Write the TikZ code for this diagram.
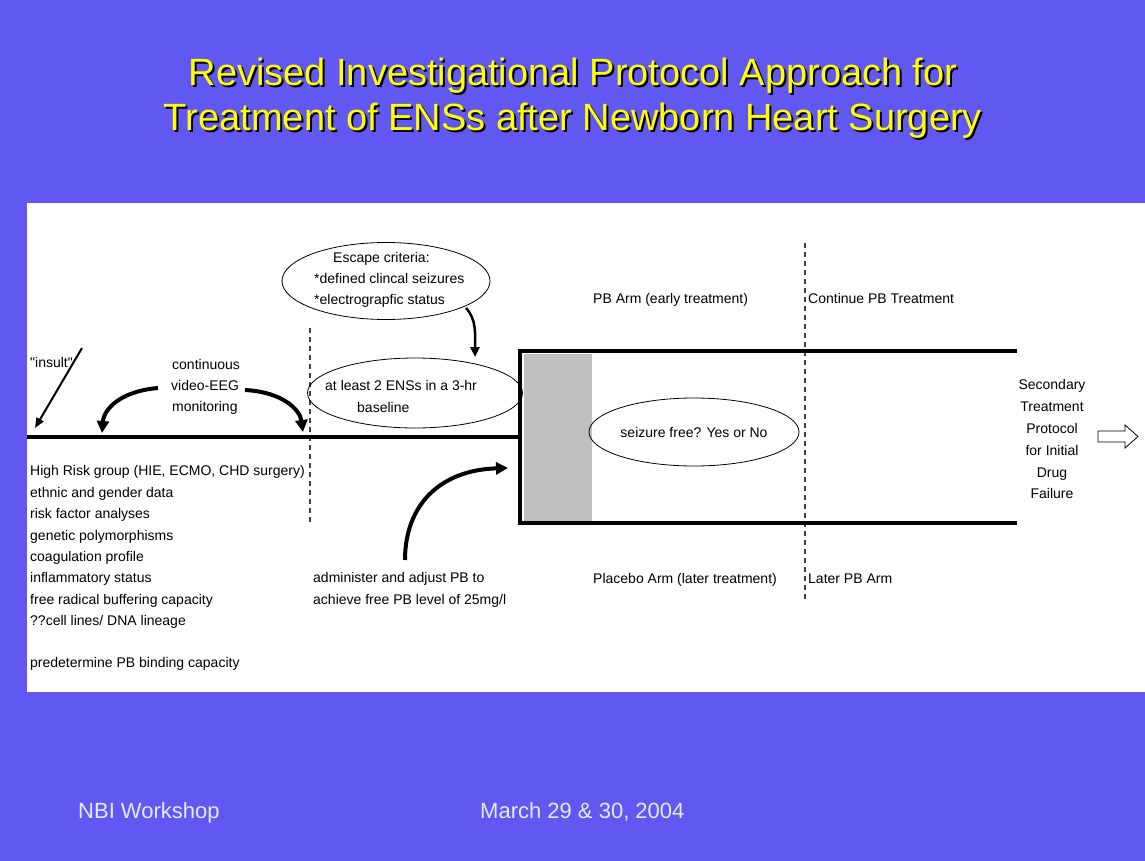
\documentclass[tikz,border=0pt]{standalone}
\usepackage{fontspec}
\setmainfont{Liberation Sans}[Ligatures=TeXOff]
\usetikzlibrary{arrows.meta,shapes.geometric,shapes.arrows}
\definecolor{slide}{RGB}{96,88,240}
\definecolor{ttl}{RGB}{255,255,0}
\definecolor{foot}{RGB}{228,234,255}
\definecolor{armgray}{RGB}{192,192,192}
\begin{document}
\begin{tikzpicture}[x=1pt,y=-1pt,
  txt/.style={anchor=base west, inner sep=0pt, font=\fontsize{14}{16}\selectfont},
  ctxt/.style={anchor=base, inner sep=0pt, font=\fontsize{14}{16}\selectfont},
  ttlshadow/.style={anchor=base, inner sep=0pt, font=\fontsize{38}{44}\selectfont, text=black},
  ttltext/.style={anchor=base, inner sep=0pt, font=\fontsize{38}{44}\selectfont, text=ttl},
  foottxt/.style={anchor=base west, inner sep=0pt, font=\fontsize{22}{26}\selectfont, text=foot},
  bar/.style={line width=4.5pt},
  thickarrow/.style={line width=4pt, -{Triangle[length=12pt,width=12pt]}},
  thinarrow/.style={line width=2pt, -{Triangle[length=10pt,width=8pt]}},
  midarrow/.style={line width=2.5pt, -{Triangle[length=10pt,width=9pt]}},
  guide/.style={dash pattern=on 5pt off 4pt, line width=1.2pt, black!75},
  oval/.style={ellipse, draw, line width=0.8pt, inner sep=0pt, font=\fontsize{14}{16}\selectfont}]
\useasboundingbox (0,0) rectangle (1145,861);
\fill[slide] (0,0) rectangle (1145,861);
\fill[white] (27,203) rectangle (1145,692);

% title
\node[ttlshadow] (t1s) at (575,88) {Revised Investigational Protocol Approach for};
\node[ttltext]   (t1)  at (573,86) {Revised Investigational Protocol Approach for};
\node[ttlshadow] (t2s) at (575,133) {Treatment of ENSs after Newborn Heart Surgery};
\node[ttltext]   (t2)  at (573,131) {Treatment of ENSs after Newborn Heart Surgery};

% dashed guides
\coordinate (g1t) at (310,328); \coordinate (g1b) at (310,525);
\coordinate (g2t) at (805,243); \coordinate (g2b) at (805,600);
\draw[guide] (g1t) -- (g1b);
\draw[guide] (g2t) -- (g2b);

% box
\fill[armgray] (524,354) rectangle (592,521);
\coordinate (bx1) at (1017,351); \coordinate (bx2) at (520,351);
\coordinate (bx3) at (520,523);  \coordinate (bx4) at (1017,523);
\draw[bar] (bx1) -- (bx2) -- (bx3) -- (bx4);

% timeline
\coordinate (tl0) at (27,437); \coordinate (tl1) at (520,437);
\draw[bar] (tl0) -- (tl1);

% ellipses
\node[oval, minimum width=208pt, minimum height=77pt] (esc) at (386,281) {};
\node[oval, minimum width=215pt, minimum height=70pt] (base) at (415,393) {};
\node[oval, minimum width=210pt, minimum height=68pt] (sf) at (694,432) {seizure free? Yes or No};

% texts
\node[txt] (ins) at (30,367) {"insult"};
\node[txt] (cv1) at (172,369) {continuous};
\node[txt] (cv2) at (171,390) {video-EEG};
\node[txt] (cv3) at (172,411) {monitoring};

\node[txt] (e1) at (333,262) {Escape criteria:};
\node[txt] (e2) at (314,283) {*defined clincal seizures};
\node[txt] (e3) at (314,304) {*electrograpfic status};

\node[txt] (b1) at (325,390) {at least 2 ENSs in a 3-hr};
\node[txt] (b2) at (357,412) {baseline};

\node[txt] (pba) at (593,303) {PB Arm (early treatment)};
\node[txt] (cpb) at (808,303) {Continue PB Treatment};
\node[txt] (pla) at (593,583) {Placebo Arm (later treatment)};
\node[txt] (lpb) at (808,583) {Later PB Arm};

\node[txt] (ad1) at (313,582) {administer and adjust PB to};
\node[txt] (ad2) at (313,604) {achieve free PB level of 25mg/l};

\node[txt] (l1) at (30,475) {High Risk group (HIE, ECMO, CHD surgery)};
\node[txt] (l2) at (30,497) {ethnic and gender data};
\node[txt] (l3) at (30,518) {risk factor analyses};
\node[txt] (l4) at (30,540) {genetic polymorphisms};
\node[txt] (l5) at (30,561) {coagulation profile};
\node[txt] (l6) at (30,582) {inflammatory status};
\node[txt] (l7) at (30,604) {free radical buffering capacity};
\node[txt] (l8) at (30,625) {??cell lines/ DNA lineage};
\node[txt] (l9) at (30,667) {predetermine PB binding capacity};

\node[ctxt] (s1) at (1052,389) {Secondary};
\node[ctxt] (s2) at (1052,411) {Treatment};
\node[ctxt] (s3) at (1052,433) {Protocol};
\node[ctxt] (s4) at (1052,455) {for Initial};
\node[ctxt] (s5) at (1052,477) {Drug};
\node[ctxt] (s6) at (1052,498) {Failure};

% hollow block arrow
\draw[fill=white, line width=0.8pt, line join=miter]
  (1098,431) -- (1125,431) -- (1125,425) -- (1138,436.5) -- (1125,448)
  -- (1125,442) -- (1098,442) -- cycle;

% arrows
\coordinate (insA) at (82,348); \coordinate (insB) at (35,428);
\draw[thinarrow] (insA) -- (insB);
\coordinate (cvL) at (158,388); \coordinate (cvLt) at (102,433);
\draw[thickarrow] (cvL) .. controls (122,391) and (104,408) .. (cvLt);
\coordinate (cvR) at (245,390); \coordinate (cvRt) at (303,432);
\draw[thickarrow] (cvR) .. controls (283,392) and (300,410) .. (cvRt);
\coordinate (escA) at (466,308); \coordinate (escB) at (475,357);
\draw[midarrow] (escA) .. controls (477,320) and (475,335) .. (escB);
\coordinate (adA) at (405,560); \coordinate (adB) at (508,468);
\draw[thickarrow] (adA) .. controls (405,505) and (440,470) .. (adB);

% footer
\node[foottxt] (f1) at (78,818) {NBI Workshop};
\node[foottxt] (f2) at (480,818) {March 29 \& 30, 2004};
\end{tikzpicture}
\end{document}
